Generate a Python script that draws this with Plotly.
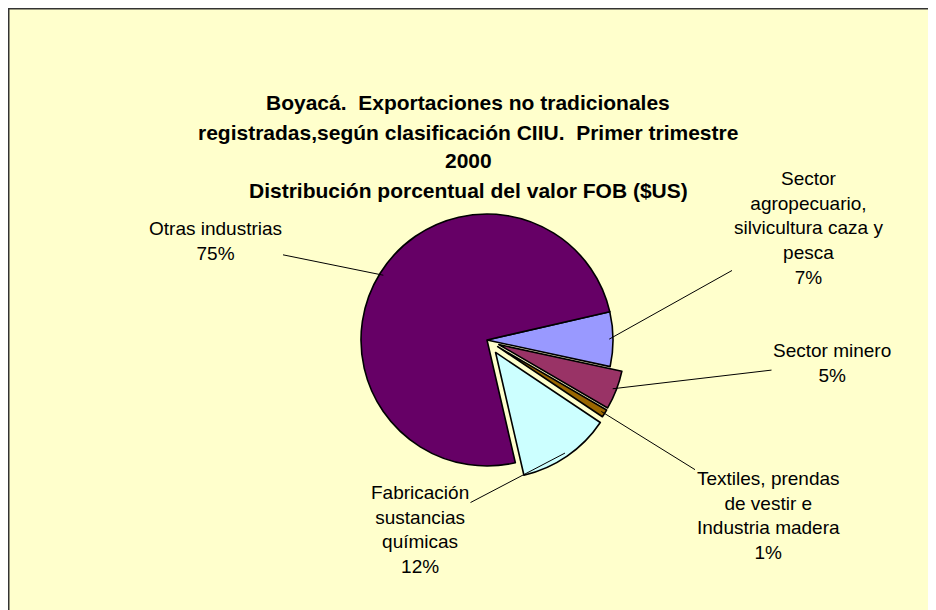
import math
import plotly.graph_objects as go

# ---- data ----
labels = [
    "Sector agropecuario, silvicultura caza y pesca",
    "Sector minero",
    "Textiles, prendas de vestir e Industria madera",
    "Fabricación sustancias químicas",
    "Otras industrias",
]
label_text = [
    "Sector<br>agropecuario,<br>silvicultura caza y<br>pesca<br>7%",
    "Sector minero<br>5%",
    "Textiles, prendas<br>de vestir e<br>Industria madera<br>1%",
    "Fabricación<br>sustancias<br>químicas<br>12%",
    "Otras industrias<br>75%",
]
values = [7, 5, 1, 12, 75]
colors = ["#9999FF", "#993366", "#996600", "#CCFFFF", "#660066"]
pulls = [0.0, 0.10, 0.10, 0.12, 0.0]
title_lines = [
    "Boyacá.  Exportaciones no tradicionales",
    "registradas,según clasificación CIIU.  Primer trimestre",
    "2000",
    "Distribución porcentual del valor FOB ($US)",
]

# figure fills the 936x610 window after the page's 8px body margin
W, H = 928, 602
rotation = 77
cx, cy, r = 479, 332, 126
max_pull = max(pulls)
R_dom = r * (1 + max_pull)
FONT = "Arial, Liberation Sans, sans-serif"

fig = go.Figure()
fig.add_trace(go.Pie(
    labels=labels, values=values, sort=False, direction="clockwise",
    rotation=rotation, pull=pulls, textinfo="none", hoverinfo="label+percent",
    marker=dict(colors=colors, line=dict(color="#000000", width=1.6)),
    domain=dict(x=[(cx - R_dom) / W, (cx + R_dom) / W],
                y=[1 - (cy + R_dom) / H, 1 - (cy - R_dom) / H]),
    showlegend=False,
))

# label positions (pixel centres of text) and leader lines to slice edges
label_pos = [(800, 220), (824, 355), (760, 507), (412, 521), (207, 233)]
total = sum(values)
ang = rotation
annotations = []
for i, v in enumerate(values):
    span = 360 * v / total
    mid = math.radians(ang + span / 2)
    ang += span
    off = pulls[i] * r
    ex = cx + off * math.sin(mid) + 0.97 * r * math.sin(mid)
    ey = cy - off * math.cos(mid) - 0.97 * r * math.cos(mid)
    tx, ty = label_pos[i]
    annotations.append(dict(
        x=ex / W, y=1 - ey / H, xref="paper", yref="paper",
        ax=tx - ex, ay=ty - ey, axref="pixel", ayref="pixel",
        text=label_text[i], showarrow=True, arrowhead=0, arrowwidth=1,
        arrowcolor="#000000", standoff=0,
        font=dict(family=FONT, size=19, color="#000000"),
        align="center",
    ))

title_y = [95, 125, 152, 182]
for t, yy in zip(title_lines, title_y):
    annotations.append(dict(
        x=460 / W, y=1 - yy / H, xref="paper", yref="paper", showarrow=False,
        text="<b>" + t + "</b>", xanchor="center", yanchor="middle",
        font=dict(family=FONT, size=21, color="#000000"),
    ))

fig.update_layout(
    width=W, height=H,
    margin=dict(l=0, r=0, t=0, b=0),
    paper_bgcolor="#FFFFCC",
    plot_bgcolor="#FFFFCC",
    annotations=annotations,
    shapes=[
        dict(type="line", xref="paper", yref="paper", layer="below",
             x0=0, x1=1, y0=1, y1=1,
             line=dict(color="#333333", width=3)),
        dict(type="line", xref="paper", yref="paper", layer="below",
             x0=0, x1=0, y0=0, y1=1,
             line=dict(color="#333333", width=3)),
    ],
)

fig.write_html("out.html")
